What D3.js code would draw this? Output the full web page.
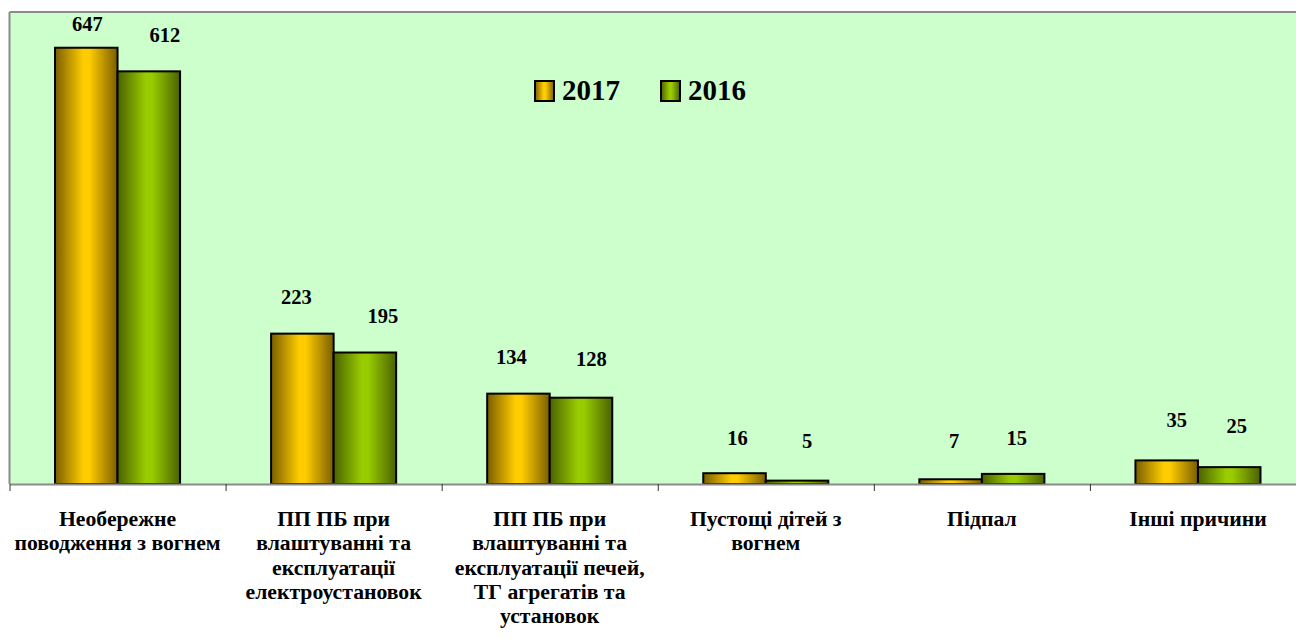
<!DOCTYPE html>
<html><head><meta charset="utf-8">
<script src="https://cdn.jsdelivr.net/npm/d3@7"></script>
<style>html,body{margin:0;padding:0;background:#fff;}svg{display:block;}</style>
</head><body>
<script>
const categories = [
  "Необережне\nповодження з вогнем",
  "ПП ПБ при\nвлаштуванні та\nексплуатації\nелектроустановок",
  "ПП ПБ при\nвлаштуванні та\nексплуатації печей,\nТГ агрегатів та\nустановок",
  "Пустощі дітей з\nвогнем",
  "Підпал",
  "Інші причини"
];
const seriesNames = ["2017", "2016"];
const values2017 = [647, 223, 134, 16, 7, 35];
const values2016 = [612, 195, 128, 5, 15, 25];
const yDomain = [0, 700];
// manual label nudges (dx, dy from bar top) as in the original layout
const labelNudge2017 = [[1,-17],[-6,-30],[-7,-30],[3,-28],[3.5,-31],[10,-33]];
const labelNudge2016 = [[16,-29],[18,-30],[10.5,-32],[10,-33],[3.5,-29],[7.5,-34]];

const W = 1296, H = 639;
const plot = {left: 9.5, right: 1306, top: 12, bottom: 484};
const FONT = "'Liberation Serif', 'Times New Roman', serif";
const svg = d3.select("body").append("svg").attr("width", W).attr("height", H);

const defs = svg.append("defs");
function grad(id, dark, bright) {
  const g = defs.append("linearGradient").attr("id", id).attr("x1","0").attr("x2","1").attr("y1","0").attr("y2","0");
  g.append("stop").attr("offset","0%").attr("stop-color", dark);
  g.append("stop").attr("offset","45%").attr("stop-color", bright);
  g.append("stop").attr("offset","55%").attr("stop-color", bright);
  g.append("stop").attr("offset","100%").attr("stop-color", dark);
}
grad("g2017", "#7a5e00", "#ffcc00");
grad("g2016", "#4a6200", "#99cc00");
const fills = ["url(#g2017)", "url(#g2016)"];

// plot area
svg.append("rect").attr("x", plot.left).attr("y", plot.top)
  .attr("width", plot.right - plot.left).attr("height", plot.bottom - plot.top)
  .attr("fill", "#ccffcc");
svg.append("line").attr("x1", plot.left).attr("x2", plot.right).attr("y1", plot.top).attr("y2", plot.top)
  .attr("stroke", "#8a8a8a").attr("stroke-width", 2);
svg.append("line").attr("x1", plot.left).attr("x2", plot.left).attr("y1", plot.top).attr("y2", plot.bottom)
  .attr("stroke", "#8a8a8a").attr("stroke-width", 2);

const x0 = d3.scaleBand().domain(d3.range(categories.length)).range([plot.left, plot.right]).padding(0);
const x1 = d3.scaleBand().domain(seriesNames).range([0, x0.bandwidth()]).paddingInner(0).paddingOuter(0.728);
const y = d3.scaleLinear().domain(yDomain).range([plot.bottom, plot.top]);

const series = [values2017, values2016];
const nudges = [labelNudge2017, labelNudge2016];

const groups = svg.append("g").selectAll("g").data(categories).join("g")
  .attr("transform", (d, i) => `translate(${x0(i)},0)`);

seriesNames.forEach((s, si) => {
  groups.append("rect")
    .attr("x", x1(s))
    .attr("y", (d, i) => y(series[si][i]))
    .attr("width", x1.bandwidth())
    .attr("height", (d, i) => y(0) - y(series[si][i]))
    .attr("fill", fills[si])
    .attr("stroke", "#000").attr("stroke-width", 2);
});
seriesNames.forEach((s, si) => {
  groups.append("text")
    .attr("x", (d, i) => x1(s) + x1.bandwidth() / 2 + nudges[si][i][0])
    .attr("y", (d, i) => y(series[si][i]) + nudges[si][i][1])
    .attr("text-anchor", "middle")
    .attr("font-family", FONT)
    .attr("font-weight", "bold").attr("font-size", 20.5)
    .text((d, i) => series[si][i]);
});

// x axis
const xAxis = d3.axisBottom(d3.scaleLinear().domain([0, categories.length]).range([plot.left, plot.right]))
  .tickValues(d3.range(categories.length + 1)).tickFormat("").tickSize(7).tickSizeOuter(0);
const ax = svg.append("g").attr("transform", `translate(0,${plot.bottom})`).call(xAxis);
ax.select(".domain").attr("stroke", "#8a8a8a").attr("stroke-width", 2);
ax.selectAll(".tick line").attr("stroke", "#333");

// category labels
const catG = svg.append("g");
categories.forEach((c, i) => {
  const cx = x0(i) + x0.bandwidth() / 2;
  const t = catG.append("text")
    .attr("x", cx)
    .attr("y", 526)
    .attr("text-anchor", "middle")
    .attr("font-family", FONT)
    .attr("font-weight", "bold").attr("font-size", 21.7);
  c.split("\n").forEach((line, li) => {
    t.append("tspan").attr("x", cx).attr("dy", li === 0 ? 0 : 24.3).text(line);
  });
});

// legend
const legend = svg.append("g");
const legendX = [535, 661];
seriesNames.forEach((s, si) => {
  legend.append("rect").attr("x", legendX[si]).attr("y", 81).attr("width", 19).attr("height", 20)
    .attr("fill", fills[si]).attr("stroke", "#000").attr("stroke-width", 2);
  legend.append("text").attr("x", legendX[si] + 27).attr("y", 100)
    .attr("font-family", FONT)
    .attr("font-weight", "bold").attr("font-size", 29).text(s);
});
</script>
</body></html>
